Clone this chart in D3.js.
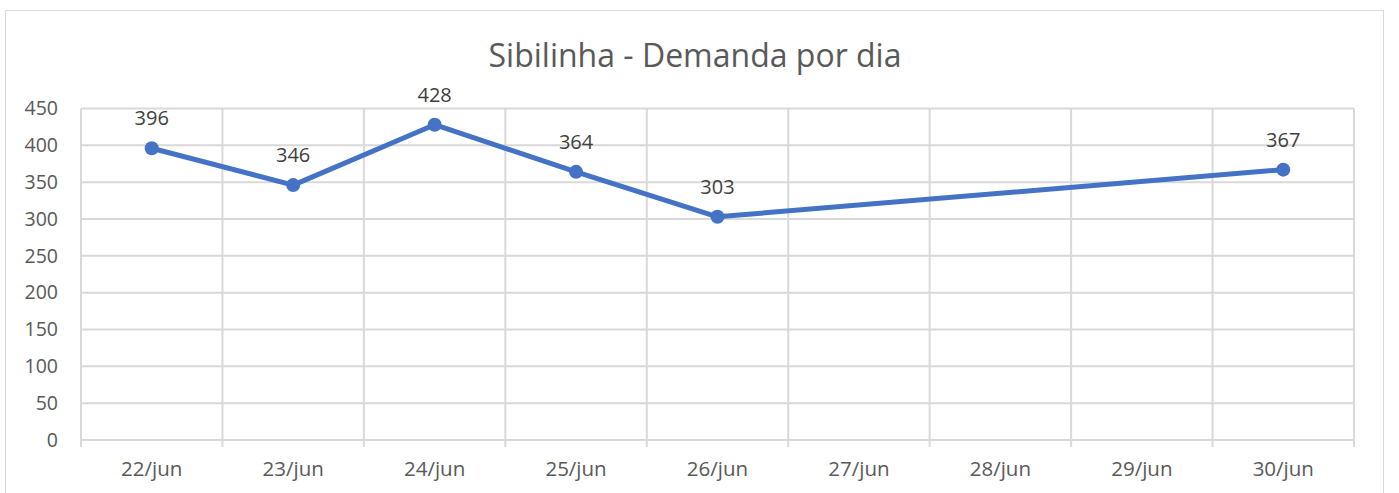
<!DOCTYPE html>
<html>
<head>
<meta charset="utf-8">
<script src="https://cdn.jsdelivr.net/npm/d3@7"></script>
<style>
  body { margin: 0; background: #fff; }
  text { font-family: "Open Sans", "Noto Sans", sans-serif; }
</style>
</head>
<body>
<svg id="chart" width="1399" height="493"></svg>
<script>
// categorias e valores
const dias = ["22/jun", "23/jun", "24/jun", "25/jun", "26/jun", "27/jun", "28/jun", "29/jun", "30/jun"];
const demandaDias = ["22/jun", "23/jun", "24/jun", "25/jun", "26/jun", "30/jun"];
const demanda = [396, 346, 428, 364, 303, 367];
const yTicks = [0, 50, 100, 150, 200, 250, 300, 350, 400, 450];

const pontos = demandaDias.map((d, i) => ({ dia: d, valor: demanda[i] }));

const svg = d3.select("#chart");
const margin = { left: 81, right: 1354, top: 108.5, bottom: 440 };

// moldura do gráfico
svg.append("rect")
  .attr("x", 5.5).attr("y", 10.5)
  .attr("width", 1378).attr("height", 500)
  .attr("fill", "#fff").attr("stroke", "#d9d9d9").attr("stroke-width", 1);

const x = d3.scaleBand().domain(dias).range([margin.left, margin.right]);
const y = d3.scaleLinear().domain([0, 450]).range([margin.bottom, margin.top]);

// título
svg.append("text")
  .attr("x", 695).attr("y", 67)
  .attr("text-anchor", "middle")
  .attr("font-size", 32)
  .attr("fill", "#595959")
  .text("Sibilinha - Demanda por dia");

// linhas de grade horizontais
svg.append("g")
  .selectAll("line")
  .data(yTicks)
  .join("line")
  .attr("x1", margin.left).attr("x2", margin.right)
  .attr("y1", d => y(d)).attr("y2", d => y(d))
  .attr("stroke", "#d9d9d9").attr("stroke-width", 2);

// linhas de grade verticais (limites das categorias)
const limites = dias.map(d => x(d)).concat([margin.right]);
svg.append("g")
  .selectAll("line")
  .data(limites)
  .join("line")
  .attr("x1", d => d).attr("x2", d => d)
  .attr("y1", margin.top).attr("y2", margin.bottom + 7)
  .attr("stroke", "#d9d9d9").attr("stroke-width", 2);

// eixo Y
svg.append("g")
  .selectAll("text")
  .data(yTicks)
  .join("text")
  .attr("x", 58).attr("y", d => y(d))
  .attr("dy", "0.35em")
  .attr("text-anchor", "end")
  .attr("font-size", 19.5)
  .attr("fill", "#595959")
  .text(d => d);

// eixo X
svg.append("g")
  .selectAll("text")
  .data(dias)
  .join("text")
  .attr("x", d => x(d) + x.bandwidth() / 2)
  .attr("y", 476)
  .attr("text-anchor", "middle")
  .attr("font-size", 20.5)
  .attr("fill", "#595959")
  .text(d => d);

// linha
const linha = d3.line()
  .x(d => x(d.dia) + x.bandwidth() / 2)
  .y(d => y(d.valor));

svg.append("path")
  .datum(pontos)
  .attr("d", linha)
  .attr("fill", "none")
  .attr("stroke", "#4472C4")
  .attr("stroke-width", 5)
  .attr("stroke-linejoin", "round");

svg.append("g")
  .selectAll("circle")
  .data(pontos)
  .join("circle")
  .attr("cx", d => x(d.dia) + x.bandwidth() / 2)
  .attr("cy", d => y(d.valor))
  .attr("r", 7)
  .attr("fill", "#4472C4");

// rótulos de dados
svg.append("g")
  .selectAll("text")
  .data(pontos)
  .join("text")
  .attr("x", d => x(d.dia) + x.bandwidth() / 2)
  .attr("y", d => y(d.valor) - 23)
  .attr("text-anchor", "middle")
  .attr("font-size", 20)
  .attr("fill", "#404040")
  .text(d => d.valor);
</script>
</body>
</html>
